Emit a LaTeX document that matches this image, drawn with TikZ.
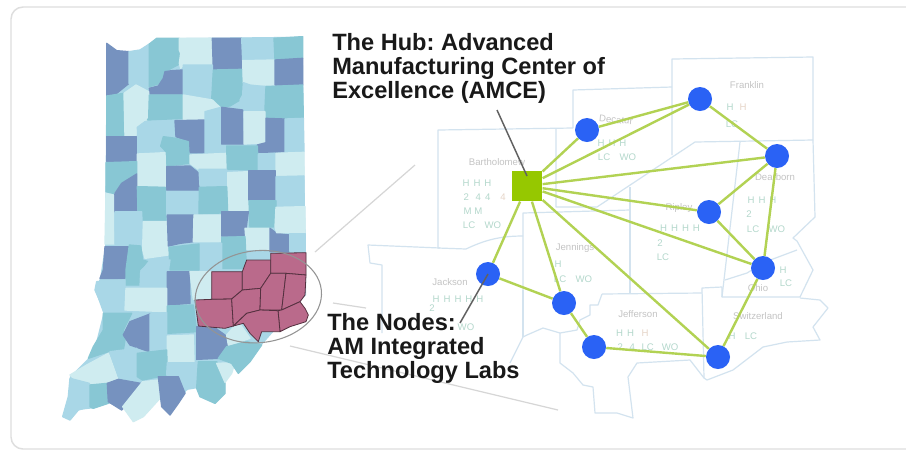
\documentclass[tikz,border=0pt]{standalone}
\usepackage{fontspec}
\setmainfont{Liberation Sans}
\definecolor{dk}{HTML}{7692BF}
\definecolor{tl}{HTML}{88C7D4}
\definecolor{lb}{HTML}{A9D7E7}
\definecolor{pl}{HTML}{CFECF0}
\definecolor{mg}{HTML}{BA6A8B}
\definecolor{mapln}{HTML}{D3E3EF}
\definecolor{edgeg}{HTML}{B2D253}
\definecolor{hubg}{HTML}{96C800}
\definecolor{blu}{HTML}{2A62F5}
\definecolor{cname}{HTML}{C4C4C4}
\definecolor{cgrn}{HTML}{B4D8CC}
\definecolor{cpnk}{HTML}{E6D5C8}
\tikzset{
  z1/.style={shift={(50,20)},x=.25pt,y=-.25pt},
  z2/.style={shift={(50,220)},x=.25pt,y=-.25pt},
  cty/.style={line width=1pt,line join=round},
  mgc/.style={draw=black!55!mg,line width=.6pt,fill=mg,line join=round},
  mapl/.style={draw=mapln,line width=.9pt,line join=round},
  guide/.style={draw=black!16,line width=.9pt},
  callout/.style={draw=black!62,line width=1.1pt},
  link/.style={draw=edgeg,line width=1.8pt},
  hubn/.style={draw=none,fill=hubg,minimum size=23pt,inner sep=0pt,rectangle},
  labn/.style={draw=none,fill=blu,circle,minimum size=18pt,inner sep=0pt},
  big/.style={font=\bfseries\fontsize{17.7}{18}\selectfont,text=black!90,align=left,inner sep=0pt,anchor=base west},
  nm/.style={font=\fontsize{7.2}{8}\selectfont,text=cname,inner sep=0pt},
  gr/.style={font=\fontsize{7.2}{8}\selectfont,text=cgrn,inner sep=0pt},
  pk/.style={font=\fontsize{7.2}{8}\selectfont,text=cpnk,inner sep=0pt},
}
\newcommand{\Cty}[2]{\path[cty,fill=#1,draw=#1] plot coordinates {#2} -- cycle;}
\newcommand{\Mgc}[1]{\path[mgc] plot coordinates {#1} -- cycle;}
\frenchspacing
\begin{document}
\begin{tikzpicture}[x=.75pt,y=-.75pt]
\useasboundingbox (0,0) rectangle (906,451);
\fill[white] (0,0) rectangle (906,451);
\begin{scope}
\clip (0,0) rectangle (906,451);
\draw[draw=black!13,line width=1.1pt,rounded corners=9pt] (930,7) -- (11,7) -- (11,449) -- (930,449);
\end{scope}
% ---------- silhouette under the counties
\begin{scope}[z2]
\path[fill=lb] plot coordinates {(170,-530)(200,-508)(237,-505)(270,-510)(298,-528)(320,-545)(758,-550)(762,-200)(765,-40)(768,98)(768,225)(635,375)(600,425)(565,460)(545,430)(525,490)(525,520)(495,550)(450,530)(440,505)(410,510)(405,520)(385,550)(360,585)(335,560)(330,535)(280,590)(250,605)(218,560)(175,550)(130,565)(85,570)(60,600)(38,590)(55,530)(60,470)(115,415)(135,380)(160,280)(135,210)(150,175)(165,80)} -- cycle;
\end{scope}
% ---------- Indiana, upper part
\begin{scope}[z1]
\Cty{dk}{(170,70)(200,92)(237,95)(237,190)(200,220)(170,228)}
\Cty{lb}{(237,95)(270,90)(298,72)(298,200)(262,195)(237,190)}
\Cty{tl}{(298,72)(320,55)(388,55)(388,90)(392,130)(345,155)(330,190)(298,200)}
\Cty{pl}{(388,55)(487,55)(487,135)(400,135)(392,145)(388,130)(392,100)(388,90)}
\Cty{dk}{(487,55)(575,55)(575,148)(490,150)}
\Cty{lb}{(575,55)(672,55)(672,120)(578,122)}
\Cty{tl}{(672,55)(758,50)(758,115)(675,120)}
\Cty{dk}{(345,155)(365,152)(398,150)(400,222)(300,222)(298,205)(325,198)(340,175)}
\Cty{lb}{(400,135)(487,135)(487,240)(400,225)}
\Cty{tl}{(490,150)(575,148)(578,225)(570,240)(540,258)(510,260)(485,240)}
\Cty{pl}{(578,122)(672,120)(675,195)(600,195)(580,188)}
\Cty{dk}{(675,120)(758,115)(758,195)(675,195)}
\Cty{lb}{(580,188)(600,195)(645,200)(645,265)(595,272)(570,240)(578,225)}
\Cty{tl}{(648,200)(758,195)(760,295)(648,295)(645,265)}
\Cty{tl}{(170,228)(222,220)(222,348)(170,348)}
\Cty{pl}{(222,220)(258,195)(296,215)(296,295)(280,320)(262,322)(262,345)(225,348)}
\Cty{tl}{(298,225)(398,225)(398,295)(292,300)(296,295)}
\Cty{pl}{(400,225)(487,240)(510,262)(465,275)(465,298)(400,298)}
\Cty{lb}{(262,322)(285,305)(372,302)(375,348)(340,350)(332,378)(332,395)(265,400)}
\Cty{dk}{(375,302)(465,300)(465,398)(420,398)(418,365)(378,350)}
\Cty{lb}{(465,275)(513,262)(515,372)(528,378)(530,400)(465,400)}
\Cty{dk}{(515,262)(578,270)(580,372)(515,372)}
\Cty{pl}{(582,275)(645,275)(645,368)(582,372)}
\Cty{dk}{(648,295)(703,297)(703,395)(622,397)(622,375)(648,368)}
\Cty{lb}{(705,297)(760,295)(762,395)(705,395)}
\Cty{dk}{(170,350)(260,350)(260,425)(170,425)}
\Cty{tl}{(332,378)(340,350)(378,355)(415,365)(418,430)(350,438)(348,395)}
\Cty{pl}{(262,402)(345,398)(348,500)(262,498)}
\Cty{pl}{(420,405)(530,400)(530,445)(445,448)(420,430)}
\Cty{tl}{(530,378)(622,378)(625,450)(532,448)}
\Cty{lb}{(625,403)(675,400)(675,450)(625,450)}
\Cty{pl}{(678,400)(762,397)(762,465)(678,470)}
\Cty{tl}{(168,428)(260,425)(260,460)(210,495)(190,520)(168,515)}
\Cty{dk}{(260,462)(260,575)(190,575)(195,520)(215,490)}
\Cty{dk}{(350,440)(420,438)(447,460)(447,510)(350,510)}
\Cty{lb}{(447,448)(530,448)(530,498)(450,498)}
\Cty{pl}{(533,458)(595,455)(595,577)(535,575)}
\Cty{dk}{(597,452)(675,452)(675,540)(597,540)}
\Cty{lb}{(678,470)(762,468)(762,560)(678,560)}
\Cty{tl}{(262,500)(346,502)(348,600)(265,600)}
\Cty{lb}{(350,515)(447,515)(447,585)(350,585)}
\Cty{tl}{(448,502)(530,500)(533,578)(447,582)}
\Cty{tl}{(597,542)(678,542)(678,620)(600,625)}
\end{scope}
% ---------- Indiana, lower part
\begin{scope}[z2]
\Cty{pl}{(168,-80)(190,-75)(192,72)(165,72)}
\Cty{lb}{(195,-25)(275,-25)(278,72)(195,72)}
\Cty{pl}{(280,5)(350,5)(352,70)(355,105)(285,115)(278,90)}
\Cty{dk}{(352,-15)(430,-15)(430,65)(390,70)(355,78)}
\Cty{pl}{(432,-15)(512,-15)(512,65)(430,65)}
\Cty{dk}{(515,-25)(595,-25)(585,48)(515,48)}
\Cty{pl}{(585,25)(658,25)(660,90)(590,88)}
\Cty{dk}{(660,25)(680,40)(718,45)(718,95)(660,95)}
\Cty{pl}{(678,-38)(765,-40)(765,38)(680,38)(675,20)}
\Cty{lb}{(720,40)(765,40)(765,95)(720,95)}
\Cty{tl}{(515,52)(585,50)(588,120)(585,145)(515,145)}
\Cty{lb}{(448,72)(515,70)(515,150)(448,150)}
\Cty{tl}{(357,82)(447,72)(447,150)(360,150)}
\Cty{dk}{(165,80)(235,80)(225,175)(150,175)(160,150)}
\Cty{tl}{(238,75)(272,78)(278,120)(295,125)(268,150)(270,195)(228,195)(228,150)}
\Cty{lb}{(300,120)(360,120)(348,200)(270,200)(272,158)}
\Cty{dk}{(352,155)(418,155)(420,250)(352,255)}
\Cty{pl}{(420,155)(485,155)(482,235)(430,238)}
\Cty{lb}{(140,185)(225,180)(222,275)(165,278)(135,210)}
\Cty{pl}{(228,205)(350,205)(350,275)(225,270)}
\Cty{tl}{(352,258)(430,255)(440,335)(352,340)}
\Cty{tl}{(160,280)(245,280)(220,330)(225,360)(220,390)(175,395)(115,415)(130,380)(160,330)}
\Cty{dk}{(300,282)(298,395)(240,375)(220,345)(240,305)}
\Cty{lb}{(300,282)(350,278)(350,390)(300,395)}
\Cty{pl}{(352,348)(430,345)(432,425)(352,425)}
\Cty{dk}{(440,320)(490,320)(525,345)(535,385)(505,415)(440,418)}
\Cty{pl}{(60,465)(110,435)(175,400)(205,480)(170,490)(120,490)(70,475)}
\Cty{lb}{(180,395)(260,385)(262,470)(205,470)}
\Cty{tl}{(262,400)(350,390)(352,465)(278,480)(262,470)}
\Cty{lb}{(352,428)(440,428)(440,465)(410,510)(385,490)(350,465)}
\Cty{lb}{(60,475)(118,490)(120,560)(85,570)(60,600)(38,590)(55,530)}
\Cty{tl}{(120,495)(172,490)(175,550)(130,565)(120,560)}
\Cty{dk}{(172,490)(205,478)(272,490)(245,540)(215,570)(175,545)}
\Cty{pl}{(278,485)(325,480)(330,535)(280,590)(250,605)(218,560)}
\Cty{dk}{(325,470)(385,470)(405,520)(385,550)(360,585)(335,560)}
\Cty{tl}{(445,425)(500,425)(525,490)(525,520)(495,550)(450,530)(440,505)}
\Cty{pl}{(500,430)(555,428)(545,460)(525,487)}
\Cty{tl}{(530,380)(590,365)(635,375)(600,425)(565,460)(545,430)(505,415)}
\Cty{pl}{(530,345)(565,305)(600,355)(570,365)(535,375)}
\Mgc{(485,155)(577,155)(577,210)(545,237)(485,238)}
\Mgc{(577,155)(590,120)(662,120)(662,160)(632,205)(577,210)}
\Mgc{(662,100)(768,98)(768,165)(708,160)(662,160)}
\Mgc{(435,240)(485,238)(545,237)(550,318)(525,325)(445,318)}
\Mgc{(545,237)(577,210)(632,205)(630,270)(590,280)(550,318)}
\Mgc{(632,205)(662,160)(708,160)(695,270)(630,270)}
\Mgc{(708,160)(768,165)(765,225)(750,245)(695,270)}
\Mgc{(695,270)(750,245)(765,265)(775,285)(768,305)(720,320)(690,335)(684,272)}
\Mgc{(590,280)(630,270)(684,272)(690,335)(635,335)(625,365)(600,340)(580,310)(550,318)}
\draw[draw=black!42,line width=.8pt,rotate around={6:(625,230)}] (625,230) ellipse [x radius=190,y radius=138];
\end{scope}
% ---------- guide lines
\coordinate (g1a) at (315,252); \coordinate (g1b) at (415,165);
\coordinate (g2a) at (333,303); \coordinate (g2b) at (366,308);
\coordinate (g3a) at (290,346); \coordinate (g3b) at (558,410);
\draw[guide] (g1a) -- (g1b);
\draw[guide] (g2a) -- (g2b);
\draw[guide] (g3a) -- (g3b);
% ---------- county map on the right
\draw[mapl] (573,128) -- (438,130) -- (438,248) -- (466,249) .. controls (485,240) and (500,236) .. (523,236);
\draw[mapl] (556,128) -- (556,207) -- (597,207) -- (695,142) -- (813,140) -- (813,57) -- (672,59) -- (672,155);
\draw[mapl] (573,128) -- (573,90) -- (672,87);
\draw[mapl] (523,290) -- (523,213) -- (630,210);
\draw[mapl] (630,187) -- (630,293);
\draw[mapl] (740,142) -- (722,297);
\draw[mapl] (813,140) -- (815,217) -- (793,238) -- (797,241) -- (813,270) -- (800,297) -- (722,297) -- (722,287) -- (702,288) -- (704,378);
\draw[mapl] (725,280) -- (747,273) -- (765,262) -- (797,250);
\draw[mapl] (800,298) -- (820,300) -- (828,308) -- (813,327) -- (820,340) -- (787,342) -- (763,347) -- (733,370) -- (707,380) -- (704,378) -- (690,360) -- (637,363) -- (628,377) -- (633,418) -- (617,413) -- (595,413) -- (593,387) -- (583,385) -- (573,373) -- (560,363) -- (560,333);
\draw[mapl] (602,294) -- (702,293);
\draw[mapl] (602,294) -- (598,305) -- (590,305) -- (590,315) -- (580,320) -- (577,330) -- (560,333) -- (543,328) -- (527,335) -- (523,337) -- (510,363);
\draw[mapl] (523,290) -- (523,337);
\draw[mapl] (440,248) -- (368,245) -- (370,263) -- (382,265) -- (382,333);
% ---------- small county labels
\node[nm] (tBar) at (497,162) {Bartholomew};
\node[gr] (tBar1) at (477,183) {H\hspace{3pt}H\hspace{3pt}H};
\node[gr] (tBar2) at (477,197) {2\hspace{5pt}4\hspace{3pt}4};
\node[pk] (tBar2b) at (503,197) {4};
\node[gr] (tBar3) at (473,211) {M\hspace{2pt}M};
\node[gr] (tBar4) at (482,225) {LC\hspace{7pt}WO};
\node[nm,rotate=-5] (tDec) at (616,120) {Decatur};
\node[gr] (tDec1) at (612,143) {H\hspace{3pt}H\hspace{3pt}H};
\node[gr] (tDec2) at (617,157) {LC\hspace{7pt}WO};
\node[nm] (tFra) at (747,85) {Franklin};
\node[gr] (tFra1) at (730,107) {H};
\node[pk] (tFra1b) at (743,107) {H};
\node[gr] (tFra2) at (732,124) {LC};
\node[nm] (tRip) at (679,208) {Ripley};
\node[gr] (tRip1) at (680,228) {H\hspace{3pt}H\hspace{3pt}H\hspace{3pt}H};
\node[gr] (tRip2) at (660,243) {2};
\node[gr] (tRip3) at (663,257) {LC};
\node[nm] (tDea) at (775,177) {Dearborn};
\node[gr] (tDea1) at (762,200) {H\hspace{3pt}H\hspace{3pt}H};
\node[gr] (tDea2) at (749,214) {2};
\node[gr] (tDea3) at (766,229) {LC\hspace{7pt}WO};
\node[nm] (tJen) at (575,248) {Jennings};
\node[gr] (tJen1) at (558,264) {H};
\node[gr] (tJen2) at (573,279) {LC\hspace{7pt}WO};
\node[nm] (tJac) at (450,282) {Jackson};
\node[gr] (tJac1) at (458,299) {H\hspace{3pt}H\hspace{3pt}H\hspace{3pt}H\hspace{3pt}H};
\node[gr] (tJac2) at (432,308) {2};
\node[gr] (tJac3) at (466,327) {WO};
\node[nm] (tOhi) at (758,288) {Ohio};
\node[gr] (tOhi1) at (783,270) {H};
\node[gr] (tOhi2) at (786,283) {LC};
\node[nm] (tSwi) at (758,316) {Switzerland};
\node[gr] (tSwi1) at (732,336) {H};
\node[gr] (tSwi2) at (751,336) {LC};
\node[nm] (tJef) at (638,314) {Jefferson};
\node[gr] (tJef1) at (625,333) {H\hspace{3pt}H};
\node[pk] (tJef1b) at (645,333) {H};
\node[gr] (tJef2) at (648,347) {2\hspace{5pt}4\hspace{5pt}LC\hspace{6pt}WO};
% ---------- network
\node[hubn] (hub) at (527,186) {};
\node[labn] (n1) at (587,130) {};
\node[labn] (n2) at (700,99) {};
\node[labn] (n3) at (777,156) {};
\node[labn] (n4) at (709,212) {};
\node[labn] (n5) at (763,268) {};
\node[labn] (n6) at (718,357) {};
\node[labn] (n7) at (594,347) {};
\node[labn] (n8) at (564,303) {};
\node[labn] (n9) at (488,274) {};
\foreach \a/\b in {hub/n1,hub/n2,hub/n3,hub/n4,hub/n5,hub/n6,hub/n8,hub/n9,n1/n2,n2/n3,n3/n4,n3/n5,n4/n5,n5/n6,n6/n7,n7/n8,n8/n9}
  \draw[link] (\a) -- (\b);
% ---------- callouts and headings
\coordinate (c1) at (497,110);
\coordinate (c1b) at (527,176);
\coordinate (c2) at (460,323);
\draw[callout] (c1) -- (c1b);
\draw[callout] (c2) -- (n9.center);
\node[big] (hubt1) at (332,50) {The Hub: Advanced};
\node[big] (hubt2) at (332,74) {Manufacturing Center of};
\node[big] (hubt3) at (332,98) {Excellence (AMCE)};
\node[big] (labt1) at (327,330) {The Nodes:};
\node[big] (labt2) at (327,354) {AM Integrated};
\node[big] (labt3) at (327,378) {Technology Labs};
\end{tikzpicture}
\end{document}
